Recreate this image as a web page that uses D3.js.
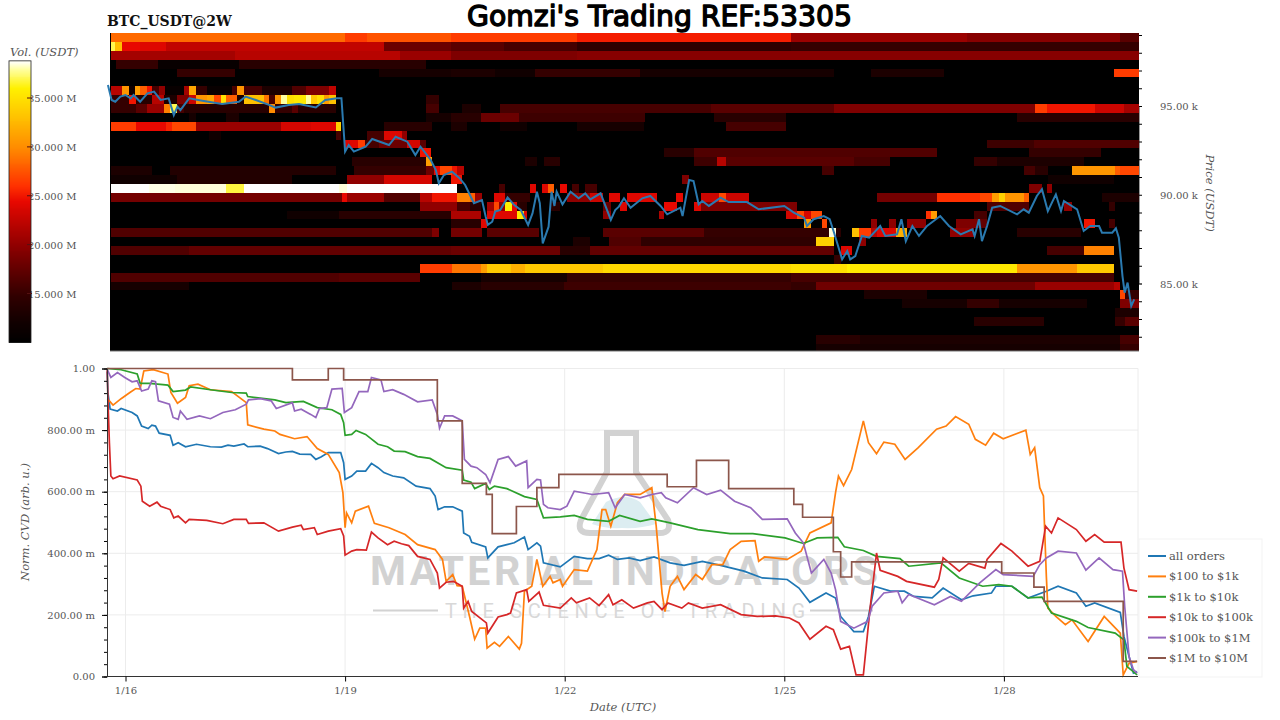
<!DOCTYPE html>
<html>
<head>
<meta charset="utf-8">
<script src="https://cdn.jsdelivr.net/npm/d3@7"></script>
<style>
  body { margin: 0; background: #fff; }
  svg { display: block; }
  text { font-family: "DejaVu Serif", serif; }
</style>
</head>
<body>
<svg id="chart" width="1280" height="720"></svg>
<script>
// times are fractional days of January, CVD in milli units, price in k USDT, volume in M USDT

const priceLine = [[15.76,96.18],[15.81,95.34],[15.86,95.24],[15.93,95.53],[16,95.62],[16.07,95.43],[16.11,95.62],[16.2,95.24],[16.3,95.71],[16.39,95.81],[16.48,95.34],[16.59,95.43],[16.66,94.49],[16.71,94.96],[16.75,94.77],[16.87,95.43],[17.05,95.3],[17.32,95.11],[17.55,95.24],[17.64,95.53],[17.78,95.34],[17.96,95.06],[18.05,94.91],[18.23,95.06],[18.37,95.11],[18.6,94.92],[18.73,95.34],[18.89,95.43],[18.95,95.43],[18.98,93.65],[19,92.43],[19.05,92.8],[19.12,92.43],[19.28,92.71],[19.37,93.14],[19.6,92.8],[19.69,93.27],[19.85,92.99],[19.96,92.24],[20.03,92.71],[20.17,91.96],[20.24,91.39],[20.28,90.64],[20.35,91.11],[20.46,91.3],[20.56,90.95],
  [20.64,90.55],[20.76,89.52],[20.87,89.7],[20.92,88.77],[20.95,88.3],[21.01,88.48],[21.05,89.05],[21.12,89.14],[21.22,89.85],[21.31,89.42],[21.4,89.14],[21.5,88.3],[21.56,88.95],[21.62,90.17],[21.66,89.52],[21.7,87.26],[21.78,88.2],[21.82,90.17],[21.86,89.37],[21.89,90.17],[21.97,89.46],[22.08,90.17],[22.19,89.8],[22.28,90.08],[22.35,89.74],[22.49,90.08],[22.63,88.58],[22.69,89.14],[22.74,89.33],[22.81,89.8],[22.9,89.27],[23.06,89.8],[23.17,89.93],[23.31,89.37],[23.4,88.9],[23.58,89.27],[23.61,88.8],[23.7,90.83],[23.76,90.77],[23.83,89.46],[23.88,89.65],[23.97,89.37],[24.13,89.84],[24.24,89.59],[24.49,89.59],[24.65,89.18],[25,89.37],[25.13,88.99],[25.27,88.71],
  [25.31,88.24],[25.4,88.62],[25.54,88.8],[25.62,88.62],[25.68,87.86],[25.79,86.36],[25.86,86.83],[25.9,86.36],[25.97,86.55],[26.06,87.68],[26.16,87.58],[26.31,88.24],[26.38,87.68],[26.54,87.77],[26.6,88.62],[26.66,87.39],[26.75,88.24],[26.84,87.68],[26.95,88.24],[27.13,88.8],[27.25,88.24],[27.41,87.77],[27.57,88.05],[27.6,87.68],[27.66,88.62],[27.7,87.39],[27.77,88.24],[27.84,89.27],[27.95,89.37],[28.18,88.9],[28.27,89.18],[28.34,88.99],[28.45,89.93],[28.52,90.31],[28.6,89.08],[28.71,90.02],[28.78,89.08],[28.82,89.65],[29,89.18],[29.09,87.96],[29.18,88.24],[29.3,88.24],[29.34,87.86],[29.48,87.86],[29.53,88.11],[29.57,87.58],[29.62,85.42],[29.65,84.48],[29.69,85.05],[29.74,83.73],[29.78,84.11]];

// centre price of each heatmap row, top to bottom
const heatLevels = [98.86,98.36,97.86,97.36,96.86,96.36,95.86,95.36,94.86,94.36,93.86,93.36,92.86,92.36,91.86,91.36,90.86,90.36,89.86,89.36,88.86,88.36,87.86,87.36,86.86,86.36,85.86,85.36,84.86,84.36,83.86,83.36,82.86,82.36,81.86,81.36];

// [from day, to day, volume] runs for each row
const heatRuns = [
  [[15.8,19,28.5],[19,19.3,26.5],[19.3,20.44,27.5],[20.44,22.17,26.5],[22.17,25.09,25.3],[25.09,27.5,20.5],[27.5,29.59,19.5],[29.59,29.84,17]],
  [[15.8,15.86,37],[15.86,15.95,33],[15.95,16.2,24.5],[16.2,16.55,24],[16.55,19.53,22.5],[19.53,20.44,18],[20.44,21.17,17],[21.17,22.17,16],[22.17,25.09,14.5],[25.09,29.84,15]],
  [[15.8,17.5,21],[17.5,19.75,22],[19.75,20.44,20.5],[20.44,22.17,19],[22.17,29.84,19.5]],
  [[15.87,16.45,15],[16.45,17.55,11],[17.55,20.1,14]],
  [[16.7,17.5,15],[19.46,20.44,12.5],[20.44,21.05,13],[21.05,21.6,12],[21.6,23.03,15],[23.03,25.68,12.5],[26.18,27.18,13],[29.5,29.84,26.5]],
  [],
  [[15.8,15.95,22],[15.95,16.05,30.5],[16.05,16.13,12],[16.13,16.2,31],[16.2,16.3,28],[16.3,16.36,25],[16.36,16.46,16],[16.46,16.54,20],[16.54,16.8,11],[16.8,16.87,21],[16.87,16.96,31.5],[16.96,17.12,15],[17.12,17.45,11],[17.45,17.53,16],[17.53,17.62,30.5],[17.62,17.87,16],[17.87,18.28,13],[18.28,18.46,16.5],[18.46,18.78,19],[18.78,18.87,22.5]],
  [[15.8,16.05,15],[16.05,16.14,25],[16.14,16.36,14],[16.36,16.52,22],[16.52,16.71,13],[16.71,16.87,19],[16.87,16.96,23],[16.96,17.12,30.5],[17.12,17.21,31.5],[17.21,17.3,27],[17.3,17.37,35],[17.37,17.53,28],[17.53,17.62,13],[17.62,17.89,33],[17.89,17.96,29],[17.96,18.04,16],[18.04,18.12,30.5],[18.12,18.21,38],[18.21,18.3,35],[18.3,18.46,35.5],[18.46,18.53,38],[18.53,18.62,33.5],[18.62,18.71,35],[18.71,18.78,31],[18.78,18.87,33],[20.1,20.28,15]],
  [[15.8,16.14,15],[16.14,16.3,17],[16.3,16.52,20.5],[16.52,16.61,29.5],[16.61,16.71,37],[16.71,16.8,16],[16.8,17.96,14],[17.96,18.04,30],[18.04,18.28,15],[18.28,18.36,17],[18.36,18.87,14],[20.1,20.28,16],[20.6,20.85,13],[21.12,24,16],[24,25.68,17],[25.68,28.43,19],[28.43,28.59,26.5],[28.59,29.25,25],[29.25,29.64,23],[29.64,29.84,21]],
  [[16.87,16.96,12.5],[17.37,17.55,13],[20.1,20.44,12.5],[20.44,20.85,14],[20.85,21.37,18],[21.37,23.1,15.5],[24.04,25.02,14],[28.18,29.84,14]],
  [[15.8,16.14,26.5],[16.14,16.55,24.5],[16.55,16.63,25.5],[16.63,16.96,27],[16.96,18.12,20.5],[18.12,18.53,23.5],[18.53,18.87,24],[18.87,18.95,34],[19.53,20.19,14],[20.44,20.67,13],[21.12,21.49,12],[22.17,23.08,12.5],[24.2,25.02,16]],
  [[17.14,17.3,12],[18.87,18.95,16],[19.3,19.53,16],[19.53,19.78,24],[19.78,19.85,20]],
  [[19,19.18,24],[19.18,19.27,26.5],[19.27,19.46,16],[19.46,19.85,18],[19.85,20.03,23.5],[20.03,20.1,17],[27.77,28.41,15.5],[28.41,29.84,16.5]],
  [[20.03,20.17,25],[23.35,23.76,14],[23.76,27.09,16.5],[28.34,29.32,15]],
  [[19.1,20.1,14],[20.1,20.19,31],[21.46,21.62,13],[21.72,21.94,14],[23.76,24.08,15.5],[24.08,24.2,22],[24.2,25.95,17],[25.95,26.45,16],[27.59,27.91,15],[27.91,29.09,13]],
  [[15.8,16.36,13],[16.61,18.87,13.5],[19.12,20.1,15],[20.1,20.21,18],[20.21,20.3,24.5],[20.3,20.46,27],[20.46,20.53,25],[20.53,20.62,22],[25.52,25.68,16],[28.27,28.43,16],[28.43,28.6,14],[28.93,29.52,30.5],[29.52,29.59,28],[29.59,29.84,27]],
  [[15.8,16.7,12],[16.7,18.28,13.5],[19.03,19.53,20],[19.53,20.19,23.5],[20.44,20.6,25],[23.6,23.7,19],[28.6,29.5,12]],
  [[15.8,16.32,38.8],[16.32,16.68,38.6],[16.68,17.37,38.5],[17.37,17.62,36.8],[17.62,18.91,38.8],[18.91,19.03,38.5],[19.03,20.53,38.8],[21.1,21.19,16],[21.53,21.61,24],[21.69,21.77,24],[21.77,21.85,28],[21.94,22.03,24.5],[22.1,22.19,16],[22.28,22.44,16],[28.34,28.52,19],[28.59,28.66,20]],
  [[15.8,18.96,18.5],[18.96,19.03,24.5],[19.03,19.53,20.5],[19.53,20.03,16.5],[20.03,20.19,22],[20.19,20.53,25],[20.53,20.71,29.5],[20.71,20.78,28],[20.78,20.87,20.5],[21.03,21.19,24],[21.19,21.53,15],[22.03,22.35,20],[22.35,22.53,23],[22.6,22.76,24],[22.85,23.26,24],[23.52,23.61,24.5],[23.86,24.11,23],[24.11,24.2,27],[24.2,24.52,23],[26.27,27.09,18.5],[27.09,27.68,26],[27.68,27.84,27],[27.84,27.93,31],[27.93,28.02,34],[28.02,28.27,30.5],[28.27,28.34,28],[29.34,29.84,13]],
  [[20.03,20.53,20],[20.53,20.71,16],[20.71,20.85,14],[20.94,21.03,21],[21.03,21.1,27],[21.1,21.19,20],[21.19,21.28,36],[21.28,21.35,24.5],[21.35,21.49,14],[21.81,21.94,14],[22.53,22.63,18],[22.76,22.85,24],[23.35,23.54,24.5],[23.76,23.86,24],[23.86,25.18,19],[27.77,28.34,16.5],[28.82,28.93,20],[29.43,29.52,15]],
  [[18.21,18.91,12],[18.91,20.44,14],[20.44,20.85,21.5],[20.94,21.35,24],[21.35,21.44,35.5],[21.44,21.49,24],[22.53,22.63,20],[23.29,23.35,21.5],[25.02,25.18,23.5],[25.18,25.27,27],[25.27,25.36,23.5],[25.36,25.52,27],[26.93,27,26],[27,27.09,31],[27.59,27.77,16]],
  [[20.44,20.85,14],[20.85,20.94,24],[25.27,25.36,31],[25.52,25.59,27],[26.18,26.27,20],[26.43,26.52,20],[26.68,26.93,20],[27.34,27.64,19],[27.64,27.77,17.5],[29.09,29.25,25],[29.43,29.52,16]],
  [[15.8,20.19,16.5],[20.19,20.28,19],[20.44,20.87,18.5],[20.94,21.65,17],[22.53,23.9,17],[23.9,25.61,15],[25.61,25.7,38.5],[25.7,25.78,14],[25.93,26.02,33],[26.02,26.18,26.5],[26.18,26.27,22],[26.27,26.52,24],[26.52,26.68,32],[27.27,27.59,20],[28.18,29.05,14]],
  [[22.12,22.35,13],[22.6,23.04,16.5],[23.04,25.43,14.5],[25.43,25.68,34],[26.02,26.11,20]],
  [[15.8,16.87,16.5],[16.87,20.44,17.5],[20.44,21.94,18],[21.94,22.35,14],[22.35,25.68,17.5],[25.77,25.93,24],[28.59,29.09,16],[29.09,29.5,29.5]],
  [[25.68,25.77,15]],
  [[20.03,20.46,26.5],[20.46,20.85,29],[20.85,20.94,31],[20.94,21.26,33.5],[21.26,21.46,32],[21.46,22.53,33.5],[22.53,25.09,34.5],[25.09,25.86,35],[25.86,25.9,36],[25.9,28.18,35.5],[28.18,29,30.5],[29,29.5,33.5]],
  [[15.8,18.91,16.5],[18.91,20.03,17],[20.85,22.03,12.5],[22.03,25.09,15],[25.09,29.5,16]],
  [[15.8,16.87,12.5],[20.46,20.85,13],[20.85,21.99,14],[21.99,25.09,15.5],[25.09,25.43,15],[25.43,28.43,18.2],[28.43,29.5,20.5],[29.5,29.59,22]],
  [[26.09,26.95,13],[29.59,29.66,27],[29.66,29.84,15]],
  [[26.61,27.5,12.5],[27.5,27.93,15],[27.93,29.14,12.5],[29.59,29.84,19]],
  [[29.52,29.84,13]],
  [[27.59,28.55,14],[29.52,29.66,15],[29.66,29.84,17]],
  [],
  [[25.43,26.04,14],[26.04,29.59,13],[29.59,29.84,16]],
  [[25.43,29.59,12.5],[29.59,29.84,15]]
];

const cvdAll = [[15.75,990],[15.76,922],[15.79,868],[15.89,862],[15.94,870],[16.09,857],[16.16,846],[16.22,813],[16.31,805],[16.36,816],[16.41,813],[16.46,790],[16.61,783],[16.65,751],[16.72,759],[16.82,746],[16.97,754],[17.16,746],[17.31,745],[17.4,751],[17.48,748],[17.62,755],[17.67,746],[17.84,748],[17.94,740],[18.09,724],[18.19,729],[18.28,731],[18.38,722],[18.53,721],[18.6,705],[18.67,713],[18.77,727],[18.94,727],[18.98,694],[19,640],[19.09,651],[19.16,667],[19.28,667],[19.36,692],[19.45,678],[19.53,662],[19.65,651],[19.8,645],[19.97,618],[20.16,610],[20.23,586],[20.27,542],[20.36,551],[20.47,551],[20.6,537],[20.62,466],[20.7,455],[20.73,436],[20.92,421],[20.95,385],[21.09,421],[21.21,428],[21.31,434],[21.45,453],[21.5,412],[21.62,434],[21.67,423],[21.71,369],[21.94,356],[22.13,390],[22.31,383],[22.47,383],[22.6,394],[22.72,380],[22.88,385],[23.03,376],[23.22,388],[23.44,369],[23.63,361],[23.88,374],[24.13,361],[24.45,342],[24.7,320],[25.04,315],[25.2,287],[25.35,241],[25.57,271],[25.7,255],[25.77,195],[25.95,146],[26.08,146],[26.15,195],[26.23,293],[26.45,277],[26.64,277],[26.77,260],[27.02,255],[27.17,287],[27.42,249],[27.58,262],[27.83,271],[27.89,293],[28.11,293],[28.33,255],[28.58,277],[28.74,293],[28.99,271],[29.12,228],[29.24,239],[29.59,208],[29.64,130],[29.71,65],[29.77,11],[29.82,16]];

const cvd100to1k = [[15.75,900],[15.78,895],[15.83,881],[15.94,902],[16.06,922],[16.14,935],[16.2,933],[16.25,992],[16.38,996],[16.58,982],[16.62,922],[16.71,887],[16.82,906],[16.87,944],[16.99,949],[17.16,931],[17.45,925],[17.65,889],[17.67,817],[17.89,803],[18.04,797],[18.11,786],[18.31,772],[18.48,779],[18.62,740],[18.77,721],[18.92,662],[18.97,597],[19,483],[19.02,531],[19.09,499],[19.14,537],[19.32,553],[19.4,497],[19.6,483],[19.82,461],[19.99,428],[20.23,412],[20.33,380],[20.38,309],[20.47,331],[20.53,295],[20.6,293],[20.7,195],[20.77,121],[20.84,157],[20.92,157],[20.94,92],[21.04,111],[21.11,98],[21.23,130],[21.38,89],[21.41,108],[21.45,277],[21.55,293],[21.62,380],[21.7,293],[21.8,325],[21.84,304],[21.94,315],[21.97,293],[22.13,347],[22.31,342],[22.44,412],[22.51,542],[22.56,542],[22.63,488],[22.72,564],[22.82,591],[23.03,591],[23.19,613],[23.25,488],[23.33,271],[23.37,211],[23.44,293],[23.54,325],[23.63,282],[23.79,331],[23.88,315],[24.01,363],[24.16,363],[24.26,412],[24.41,439],[24.6,441],[24.65,374],[24.73,388],[25.04,380],[25.23,407],[25.35,466],[25.64,499],[25.7,597],[25.74,651],[25.81,620],[25.92,672],[26.08,830],[26.15,759],[26.26,723],[26.36,761],[26.51,754],[26.65,705],[26.83,743],[27.08,803],[27.21,813],[27.34,844],[27.52,819],[27.61,770],[27.75,751],[27.86,790],[27.99,772],[28.3,800],[28.36,721],[28.42,743],[28.49,613],[28.54,586],[28.58,325],[28.6,222],[28.71,195],[28.84,168],[28.93,184],[29.15,114],[29.37,195],[29.59,141],[29.63,5],[29.71,43],[29.82,49]];

const cvd1kto10k = [[15.75,1000],[15.94,996],[16.16,982],[16.2,952],[16.33,952],[16.58,946],[16.65,925],[16.82,930],[16.89,940],[17.16,931],[17.45,922],[17.65,920],[17.67,909],[18.04,898],[18.19,889],[18.43,893],[18.62,873],[18.82,866],[18.94,851],[18.98,824],[19,783],[19.09,786],[19.15,799],[19.28,786],[19.45,754],[19.58,746],[19.67,732],[19.82,730],[19.99,714],[20.16,708],[20.38,678],[20.6,670],[20.62,638],[20.72,631],[20.77,610],[20.92,627],[20.97,607],[21.04,618],[21.21,610],[21.45,584],[21.62,575],[21.71,515],[21.94,518],[22.13,523],[22.31,510],[22.6,504],[22.75,523],[23.03,504],[23.19,512],[23.44,499],[23.82,477],[24.26,464],[24.57,464],[25.01,450],[25.26,432],[25.45,450],[25.73,452],[25.82,421],[26.08,409],[26.26,390],[26.58,383],[26.7,358],[27.14,369],[27.39,320],[27.71,293],[27.93,298],[28.11,293],[28.33,255],[28.52,258],[28.65,206],[28.99,179],[29.15,159],[29.52,141],[29.64,119],[29.68,33],[29.82,5]];

const cvd10kto100k = [[15.75,1000],[15.76,900],[15.78,759],[15.8,651],[15.83,642],[15.92,651],[16.16,638],[16.21,618],[16.23,569],[16.33,553],[16.43,566],[16.48,553],[16.61,542],[16.66,515],[16.72,521],[16.82,499],[16.87,510],[17.11,507],[17.33,496],[17.48,510],[17.65,510],[17.68,497],[17.89,499],[18.09,472],[18.28,485],[18.4,491],[18.43,477],[18.58,483],[18.62,461],[18.77,472],[18.94,480],[18.98,456],[19,394],[19.09,407],[19.16,412],[19.29,410],[19.36,469],[19.45,450],[19.58,428],[19.67,439],[19.77,431],[19.87,425],[19.99,390],[20.16,380],[20.26,336],[20.29,287],[20.38,306],[20.48,309],[20.6,293],[20.62,222],[20.68,244],[20.73,211],[20.93,174],[20.95,141],[21.09,193],[21.21,201],[21.26,206],[21.34,271],[21.48,282],[21.51,244],[21.65,274],[21.71,231],[21.94,222],[22.09,255],[22.16,239],[22.34,255],[22.47,230],[22.6,266],[22.66,233],[22.78,249],[22.94,222],[23.13,239],[23.22,244],[23.33,217],[23.41,239],[23.6,222],[23.69,239],[23.88,222],[24.13,233],[24.41,201],[24.63,195],[24.88,197],[25.07,190],[25.2,174],[25.35,121],[25.57,163],[25.67,152],[25.77,89],[25.89,98],[25.98,5],[26.08,5],[26.17,217],[26.26,401],[26.31,345],[26.55,325],[26.67,309],[27.05,290],[27.11,315],[27.17,385],[27.39,342],[27.52,367],[27.74,352],[27.77,380],[27.96,432],[28.11,407],[28.33,358],[28.49,374],[28.57,488],[28.65,466],[28.74,515],[28.99,477],[29.12,439],[29.24,461],[29.37,436],[29.6,436],[29.64,352],[29.71,282],[29.82,277]];

const cvd100kto1m = [[15.75,997],[15.8,971],[15.89,987],[15.99,971],[16.09,957],[16.16,960],[16.22,927],[16.31,933],[16.36,960],[16.41,957],[16.45,895],[16.6,884],[16.65,841],[16.72,835],[16.75,862],[16.84,835],[17.01,846],[17.16,837],[17.33,857],[17.5,866],[17.65,884],[17.68,898],[17.84,902],[17.99,895],[18.06,870],[18.28,889],[18.31,862],[18.4,868],[18.53,851],[18.6,841],[18.65,870],[18.75,873],[18.82,933],[18.96,935],[18.99,857],[19.09,873],[19.19,925],[19.31,925],[19.36,971],[19.49,963],[19.53,925],[19.65,931],[19.8,916],[19.99,892],[20.19,898],[20.26,851],[20.29,806],[20.36,846],[20.47,846],[20.6,830],[20.63,705],[20.72,683],[20.8,678],[20.92,656],[20.98,629],[21.09,705],[21.23,714],[21.33,683],[21.48,700],[21.5,613],[21.62,640],[21.67,638],[21.71,559],[21.77,548],[21.94,542],[22.03,553],[22.13,602],[22.38,591],[22.6,597],[22.69,548],[22.82,591],[23.03,580],[23.19,591],[23.32,597],[23.38,580],[23.54,564],[23.76,613],[23.94,591],[24.13,605],[24.32,569],[24.54,548],[24.7,510],[25.04,512],[25.15,466],[25.26,434],[25.37,336],[25.54,380],[25.64,336],[25.7,282],[25.77,179],[25.95,157],[26.14,179],[26.2,228],[26.36,271],[26.55,277],[26.61,239],[26.7,266],[27.05,233],[27.27,260],[27.42,244],[27.67,304],[27.89,347],[27.99,331],[28.4,325],[28.49,363],[28.58,385],[28.74,407],[28.99,401],[29.12,345],[29.3,385],[29.49,347],[29.62,342],[29.65,228],[29.71,65],[29.77,22],[29.82,11]];

// staircase series, each value holds until the next time
const cvd1mto10m = [[15.75,1000],[18.28,963],[18.77,1000],[18.98,963],[20.26,830],[20.6,627],[20.93,591],[21.01,464],[21.34,552],[21.62,613],[21.92,656],[23.4,616],[23.8,702],[24.24,610],[25.13,559],[25.25,517],[25.67,405],[25.77,323],[25.92,372],[27.97,336],[28.41,290],[28.55,244],[29.63,49],[29.82,49]];

const seriesNames = ["all orders", "$100 to $1k", "$1k to $10k", "$10k to $100k", "$100k to $1M", "$1M to $10M"];
const seriesValues = [cvdAll, cvd100to1k, cvd1kto10k, cvd10kto100k, cvd100kto1m, cvd1mto10m];
const seriesColors = ["#1f77b4", "#ff7f0e", "#2ca02c", "#d62728", "#9467bd", "#8c564b"];

const dateTicks = [16, 19, 22, 25, 28];
const priceTicks = d3.range(82, 100);
const priceLabelTicks = [85, 90, 95];
const cvdTicks = [0, 200, 400, 600, 800, 1000];
const cvdMinorTicks = d3.range(0, 1001, 40);
const volTicks = [15, 20, 25, 30, 35];
const volStops = [10, 12, 15, 20, 24.5, 26, 30, 33, 36, 38, 38.8];
const volColors = ["#000000", "#100000", "#340000", "#900000", "#e80800", "#ff3000", "#ff8c00", "#ffc000", "#fff000", "#ffffa0", "#ffffff"];

const svg = d3.select("#chart");
const textColor = "#555";

const xDay = d3.scaleLinear().domain([16, 19]).range([125.5, 345.1]);
const yPrice = d3.scaleLinear().domain([95, 85]).range([106, 283.5]);
const yCvd = d3.scaleLinear().domain([0, 1000]).range([676.5, 368.5]);
const yVol = d3.scaleLinear().domain([15, 35]).range([293.5, 98]);
const volColor = d3.scaleLinear().domain(volStops).range(volColors).clamp(true);

const heatTop = 33, heatBottom = 351, heatLeft = 110, heatRight = 1139;
const cvdLeft = 107, cvdRight = 1138;

// titles
svg.append("text").attr("x", 107).attr("y", 26)
  .style("font-size", "14px").style("font-weight", "bold").attr("fill", "#111")
  .text("BTC_USDT@2W");
svg.append("text").attr("x", 467).attr("y", 26).attr("textLength", 385)
  .attr("lengthAdjust", "spacingAndGlyphs")
  .style("font-family", '"DejaVu Sans", sans-serif').style("font-size", "29px")
  .attr("fill", "#000").attr("stroke", "#000").attr("stroke-width", 1.4).attr("stroke-linejoin", "round")
  .text("Gomzi's Trading REF:53305");

// heatmap
svg.append("clipPath").attr("id", "heat-clip").append("rect")
  .attr("x", heatLeft).attr("y", heatTop)
  .attr("width", heatRight - heatLeft).attr("height", heatBottom - heatTop);
const heat = svg.append("g").attr("clip-path", "url(#heat-clip)");
heat.append("rect").attr("x", heatLeft).attr("y", heatTop)
  .attr("width", heatRight - heatLeft).attr("height", heatBottom - heatTop).attr("fill", "#000");
heatLevels.forEach((level, i) => {
  heat.selectAll(null).data(heatRuns[i]).enter().append("rect")
    .attr("x", (d) => xDay(d[0]))
    .attr("width", (d) => xDay(d[1]) - xDay(d[0]))
    .attr("y", yPrice(level + 0.25))
    .attr("height", yPrice(level - 0.25) - yPrice(level + 0.25))
    .attr("fill", (d) => volColor(d[2]))
    .attr("shape-rendering", "crispEdges");
});
svg.append("line").attr("x1", heatLeft).attr("x2", heatRight)
  .attr("y1", heatBottom).attr("y2", heatBottom).attr("stroke", "#777");

svg.append("path").datum(priceLine)
  .attr("fill", "none").attr("stroke", "#2a7ab0").attr("stroke-width", 2)
  .attr("d", d3.line().x((d) => xDay(d[0])).y((d) => yPrice(d[1])));

// price axis
const priceAxis = svg.append("g").attr("transform", `translate(${heatRight},0)`)
  .call(d3.axisRight(yPrice).tickValues(priceTicks).tickSize(3).tickFormat(""));
priceAxis.select(".domain").attr("stroke", "#999");
priceLabelTicks.forEach((p) => {
  svg.append("text").attr("x", 1160).attr("y", yPrice(p) + 4)
    .style("font-size", "10px").attr("fill", textColor).text(`${p}.00 k`);
});
svg.append("text").attr("transform", "translate(1206,193) rotate(90)")
  .attr("text-anchor", "middle").style("font-size", "11.5px").style("font-style", "italic")
  .attr("fill", textColor).text("Price (USDT)");

// colour bar, labels go first because the bar covers their first digit
volTicks.forEach((v) => {
  svg.append("text").attr("x", 28).attr("y", yVol(v) + 4)
    .style("font-size", "10px").attr("fill", textColor).text(`${v}.000 M`);
});
const volSteps = d3.range(10, 38.8, 0.1);
svg.selectAll(".vol-step").data(volSteps).enter().append("rect")
  .attr("class", "vol-step").attr("x", 9).attr("width", 22)
  .attr("y", (d) => yVol(d + 0.1))
  .attr("height", (d) => yVol(d) - yVol(d + 0.1) + 1)
  .attr("fill", (d) => volColor(d))
  .attr("shape-rendering", "crispEdges");
svg.append("rect").attr("x", 9).attr("y", yVol(38.8)).attr("width", 22)
  .attr("height", yVol(10) - yVol(38.8)).attr("fill", "none").attr("stroke", "#222").attr("stroke-width", 0.8);
svg.selectAll(".vol-tick").data(volTicks).enter().append("line")
  .attr("class", "vol-tick").attr("x1", 27).attr("x2", 32)
  .attr("y1", (d) => yVol(d)).attr("y2", (d) => yVol(d)).attr("stroke", "#511");
svg.append("text").attr("x", 10).attr("y", 56)
  .style("font-size", "11.5px").style("font-style", "italic").attr("fill", textColor)
  .text("Vol. (USDT)");

// CVD grid
const grid = svg.append("g").attr("stroke", "#ececec");
grid.selectAll(".gx").data(dateTicks).enter().append("line").attr("class", "gx")
  .attr("x1", (d) => xDay(d)).attr("x2", (d) => xDay(d)).attr("y1", 368.5).attr("y2", 676.5);
grid.selectAll(".gy").data(cvdTicks).enter().append("line").attr("class", "gy")
  .attr("x1", cvdLeft).attr("x2", cvdRight).attr("y1", (d) => yCvd(d)).attr("y2", (d) => yCvd(d));
grid.append("line").attr("x1", cvdRight).attr("x2", cvdRight).attr("y1", 368.5).attr("y2", 676.5);

// watermark
const mark = svg.append("g");
mark.append("path")
  .attr("d", "M607 433H636V472L668 520Q672 533 660 533H590Q576 533 581 520L607 472Z")
  .attr("fill", "none").attr("stroke", "#d2d2d2").attr("stroke-width", 6);
mark.append("path")
  .attr("d", "M592 524L606 502Q625 492 640 502L656 524Q640 529 622 528Q605 529 592 524Z")
  .attr("fill", "#dcedf1");
mark.append("text").attr("x", 370).attr("y", 585).attr("textLength", 508)
  .style("font-family", "Roboto, sans-serif").style("font-size", "41px").style("font-weight", "bold")
  .attr("fill", "#d2d2d2").text("MATERIAL INDICATORS");
mark.append("text").attr("x", 445).attr("y", 618).attr("textLength", 360)
  .style("font-family", "Roboto, sans-serif").style("font-size", "20px")
  .attr("fill", "#d8d8d8").text("THE SCIENCE OF TRADING");
mark.append("line").attr("x1", 373).attr("x2", 438).attr("y1", 610.5).attr("y2", 610.5).attr("stroke", "#d2d2d2").attr("stroke-width", 2);
mark.append("line").attr("x1", 810).attr("x2", 873).attr("y1", 610.5).attr("y2", 610.5).attr("stroke", "#d2d2d2").attr("stroke-width", 2);

// CVD lines
const line = d3.line().x((d) => xDay(d[0])).y((d) => yCvd(d[1]));
const stepLine = d3.line().curve(d3.curveStepAfter).x((d) => xDay(d[0])).y((d) => yCvd(d[1]));
svg.selectAll(".cvd").data(seriesValues).enter().append("path")
  .attr("class", "cvd").attr("fill", "none").attr("stroke-width", 1.7)
  .attr("stroke", (d, i) => seriesColors[i])
  .attr("d", (d, i) => (i === 5 ? stepLine(d) : line(d)));

// CVD axes
const fmtCvd = (v) => (v === 1000 ? "1.00" : v === 0 ? "0.00" : `${v}.00 m`);
const leftMinor = svg.append("g").attr("transform", `translate(${cvdLeft},0)`)
  .call(d3.axisLeft(yCvd).tickValues(cvdMinorTicks).tickSize(3).tickFormat(""));
leftMinor.select(".domain").remove();
const leftAxis = svg.append("g").attr("transform", `translate(${cvdLeft},0)`)
  .call(d3.axisLeft(yCvd).tickValues(cvdTicks).tickSize(5).tickPadding(7).tickFormat(fmtCvd));
leftAxis.select(".domain").attr("stroke", "#333");
leftAxis.selectAll("text").style("font-size", "10px").style("font-family", '"DejaVu Serif", serif').attr("fill", textColor);

const bottomAxis = svg.append("g").attr("transform", "translate(0,676.5)")
  .call(d3.axisBottom(xDay).tickValues(dateTicks).tickSize(5).tickPadding(5).tickFormat((d) => `1/${d}`));
bottomAxis.select(".domain").attr("stroke", "#333").attr("d", `M${cvdLeft},0H${cvdRight}`);
bottomAxis.selectAll("text").style("font-size", "10px").style("font-family", '"DejaVu Serif", serif').attr("fill", textColor);

svg.append("text").attr("x", 623).attr("y", 711).attr("text-anchor", "middle")
  .style("font-size", "11.5px").style("font-style", "italic").attr("fill", textColor).text("Date (UTC)");
svg.append("text").attr("transform", "translate(29,522) rotate(-90)").attr("text-anchor", "middle")
  .style("font-size", "11.5px").style("font-style", "italic").attr("fill", textColor).text("Norm. CVD (arb. u.)");

// legend
svg.append("rect").attr("x", 1139).attr("y", 539).attr("width", 123).attr("height", 138)
  .attr("fill", "#fff").attr("stroke", "#f3f3f3");
const legendRow = d3.scalePoint().domain(seriesNames).range([556, 658]);
const legend = svg.selectAll(".lg").data(seriesNames).enter().append("g").attr("class", "lg")
  .attr("transform", (d) => `translate(1148,${legendRow(d)})`);
legend.append("line").attr("x1", 0).attr("x2", 18).attr("stroke-width", 2)
  .attr("stroke", (d, i) => seriesColors[i]);
legend.append("text").attr("x", 21).attr("y", 4)
  .style("font-size", "11.5px").attr("fill", textColor).text((d) => d);
</script>
</body>
</html>
